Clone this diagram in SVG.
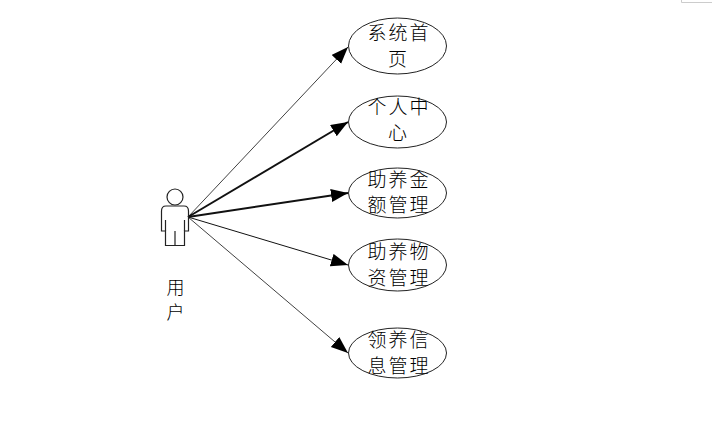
<svg xmlns="http://www.w3.org/2000/svg" width="725" height="431" viewBox="0 0 725 431">
<style>
text{font-family:"Noto Sans CJK SC","Noto Sans CJK JP",sans-serif;font-size:19px;font-weight:300;fill:#000;text-anchor:middle;letter-spacing:2px}
.u{font-size:18px;letter-spacing:0}
.e{fill:#fff;stroke:#222;stroke-width:1}
.c{fill:none;stroke:#111;marker-end:url(#a)}
.p{fill:none;stroke:#222;stroke-width:1.2}
</style>
<defs>
<marker id="a" markerUnits="userSpaceOnUse" markerWidth="18" markerHeight="14" refX="17" refY="6.500" orient="auto"><path d="M0 0L17 6.500L0 13Z" fill="#000"/></marker>
</defs>
<rect width="725" height="431" fill="#fff"/>
<path d="M681.500 0V2.500H712" fill="none" stroke="#ccc"/>
<g id="connectors">
<path class="c" stroke-width=".8" d="M188 217L348 47"/>
<path class="c" stroke-width="2" d="M188 217L348 122"/>
<path class="c" stroke-width="2" d="M188 217L348 193"/>
<path class="c" stroke-width="1" d="M188 217L348 265"/>
<path class="c" stroke-width=".8" d="M188 217L348 353"/>
</g>
<g id="user">
<circle class="p" cx="175" cy="197" r="8"/>
<path class="p" d="M166 206H184Q188.500 206 188.500 211V231H184.500V245.500H165.500V231H161.500V211Q161.500 206 166 206Z"/>
<path class="p" d="M165.500 220V231M184.500 220V231M175 231V245.500"/>
<text class="u" x="175.500" y="294">用</text>
<text class="u" x="175.500" y="319">户</text>
</g>
<g id="n1"><ellipse class="e" cx="397.500" cy="46" rx="49" ry="28"/><text x="399" y="40">系统首</text><text x="398.500" y="66">页</text></g>
<g id="n2"><ellipse class="e" cx="397.500" cy="122" rx="49" ry="26"/><text x="399" y="114">个人中</text><text x="398.500" y="140">心</text></g>
<g id="n3"><ellipse class="e" cx="397.500" cy="193" rx="49" ry="25"/><text x="399" y="187">助养金</text><text x="399" y="212">额管理</text></g>
<g id="n4"><ellipse class="e" cx="397.500" cy="265" rx="49" ry="26"/><text x="399" y="259">助养物</text><text x="399" y="285">资管理</text></g>
<g id="n5"><ellipse class="e" cx="397.500" cy="353" rx="49" ry="25"/><text x="399" y="347">领养信</text><text x="399" y="373">息管理</text></g>
</svg>
